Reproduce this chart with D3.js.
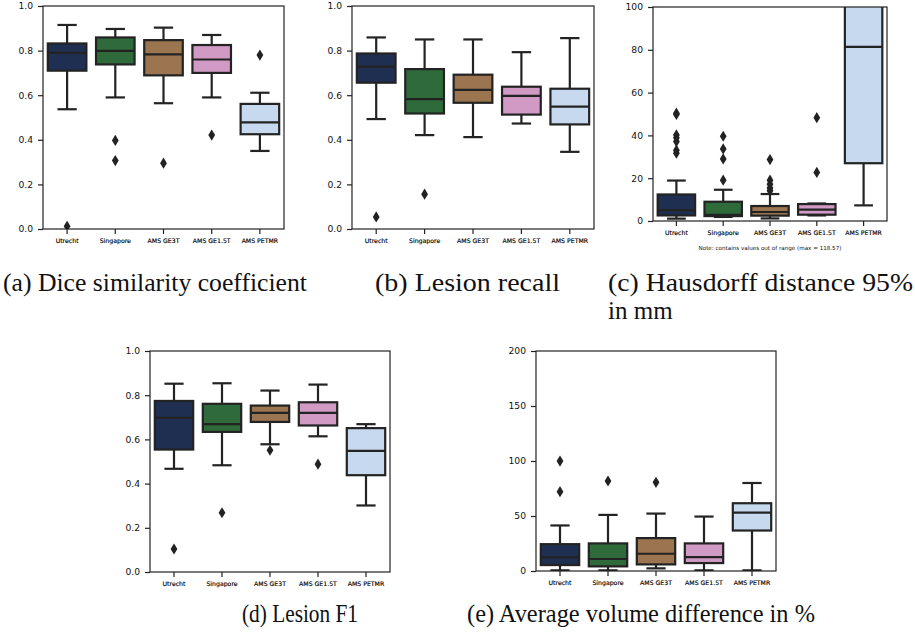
<!DOCTYPE html>
<html>
<head>
<meta charset="utf-8">
<script src="https://cdn.jsdelivr.net/npm/d3@7"></script>
<style>
    body { margin: 0; background: #ffffff; }
    svg { display: block; }
    .caption { font-family: "Liberation Serif", "Times New Roman", "Nimbus Roman", "DejaVu Serif", Georgia, serif; }
</style>
</head>
<body>
<svg id="vis-svg-boxes" width="915" height="640"></svg>
<script>
// Constants
const svgBoxes = d3.select("#vis-svg-boxes")

// Categories and colours (one per site)
const sites = ["Utrecht", "Singapore", "AMS GE3T", "AMS GE1.5T", "AMS PETMR"]
const siteColors = ["#1f2f52", "#2e6a3a", "#9a7550", "#d09ac4", "#c6d9ef"]

// Tick values
const unitTicks = [0, 0.2, 0.4, 0.6, 0.8, 1.0]
const hausdorffTicks = [0, 20, 40, 60, 80, 100]
const volumeTicks = [0, 50, 100, 150, 200]

// Box stats per site: [lower whisker, q1, median, q3, upper whisker]
const diceStats = [
    [0.537, 0.710, 0.790, 0.832, 0.915],
    [0.590, 0.738, 0.799, 0.859, 0.897],
    [0.564, 0.689, 0.783, 0.847, 0.903],
    [0.590, 0.700, 0.760, 0.825, 0.870],
    [0.350, 0.425, 0.478, 0.561, 0.611]
]
const diceOutliers = [[0.012], [0.397, 0.307], [0.295], [0.421], [0.780]]

const recallStats = [
    [0.493, 0.656, 0.728, 0.787, 0.859],
    [0.421, 0.518, 0.582, 0.717, 0.850],
    [0.412, 0.566, 0.624, 0.692, 0.850],
    [0.473, 0.513, 0.597, 0.638, 0.793],
    [0.346, 0.469, 0.549, 0.629, 0.856]
]
const recallOutliers = [[0.054], [0.156], [], [], []]

const hausdorffStats = [
    [1.1, 2.6, 5.1, 12.4, 18.9],
    [1.9, 2.3, 2.9, 9.0, 14.6],
    [1.2, 2.5, 4.2, 7.0, 12.6],
    [2.6, 2.95, 5.3, 7.9, 8.2],
    [7.3, 27.0, 81.4, 110.0, 118.57]
]
const hausdorffOutliers = [
    [49.8, 50.4, 40.2, 38.9, 37.1, 33.1, 31.7],
    [39.6, 33.7, 29.0, 19.1],
    [28.7, 19.1, 17.2, 15.4, 14.1],
    [48.3, 22.7],
    []
]

const f1Stats = [
    [0.467, 0.554, 0.697, 0.774, 0.852],
    [0.483, 0.634, 0.669, 0.761, 0.854],
    [0.578, 0.679, 0.720, 0.753, 0.821],
    [0.614, 0.663, 0.720, 0.768, 0.848],
    [0.301, 0.438, 0.548, 0.651, 0.669]
]
const f1Outliers = [[0.104], [0.268], [0.551], [0.488], []]

const volumeStats = [
    [0.6, 5.4, 12.4, 24.4, 41.4],
    [0.6, 4.2, 10.9, 25.1, 51.0],
    [2.4, 6.0, 15.7, 29.9, 52.2],
    [0.6, 7.2, 12.7, 25.1, 49.5],
    [0.6, 36.8, 53.1, 61.6, 80.0]
]
const volumeOutliers = [[99.9, 72.1], [81.8], [80.6], [], []]

class BoxPanel {
    edgeColor = '#232323'
    boxLine = 2.2

    constructor(key, frame, yDomain, yTicks, tickFormat, stats, outliers) {
        this.key = key
        this.frame = frame
        this.stats = stats
        this.outliers = outliers
        this.yTicks = yTicks
        this.tickFormat = tickFormat

        this.xScale = d3.scaleBand()
            .domain(sites)
            .range([frame.left, frame.right])
            .paddingInner(0)
            .paddingOuter(0)

        this.yScale = d3.scaleLinear()
            .domain(yDomain)
            .range([frame.bottom, frame.top])

        this.GroupSvg = svgBoxes.append('g').attr('class', `panel-${key}`)
    }

    Draw() {
        const f = this.frame
        const clipId = `clip-${this.key}`
        this.GroupSvg.append('clipPath')
            .attr('id', clipId)
            .append('rect')
            .attr('x', f.left)
            .attr('y', f.top)
            .attr('width', f.right - f.left)
            .attr('height', f.bottom - f.top)

        const plot = this.GroupSvg.append('g').attr('clip-path', `url(#${clipId})`)
        const boxW = this.xScale.bandwidth() * 0.8
        const capW = boxW * 0.5

        sites.forEach((site, i) => {
            const [lo, q1, med, q3, hi] = this.stats[i]
            const cx = this.xScale(site) + this.xScale.bandwidth() / 2
            const g = plot.append('g')

            // whiskers
            g.append('line')
                .attr('x1', cx).attr('x2', cx)
                .attr('y1', this.yScale(q3)).attr('y2', this.yScale(hi))
            g.append('line')
                .attr('x1', cx).attr('x2', cx)
                .attr('y1', this.yScale(q1)).attr('y2', this.yScale(lo))
            g.append('line')
                .attr('x1', cx - capW / 2).attr('x2', cx + capW / 2)
                .attr('y1', this.yScale(hi)).attr('y2', this.yScale(hi))
            g.append('line')
                .attr('x1', cx - capW / 2).attr('x2', cx + capW / 2)
                .attr('y1', this.yScale(lo)).attr('y2', this.yScale(lo))
            g.selectAll('line')
                .attr('stroke', this.edgeColor)
                .attr('stroke-width', this.boxLine)

            // box
            g.append('rect')
                .attr('x', cx - boxW / 2)
                .attr('y', this.yScale(q3))
                .attr('width', boxW)
                .attr('height', this.yScale(q1) - this.yScale(q3))
                .attr('fill', siteColors[i])
                .attr('stroke', this.edgeColor)
                .attr('stroke-width', this.boxLine)

            // median
            g.append('line')
                .attr('x1', cx - boxW / 2).attr('x2', cx + boxW / 2)
                .attr('y1', this.yScale(med)).attr('y2', this.yScale(med))
                .attr('stroke', this.edgeColor)
                .attr('stroke-width', this.boxLine)

            // outliers (thin diamonds)
            g.selectAll('path.flier')
                .data(this.outliers[i])
                .join('path')
                .attr('class', 'flier')
                .attr('d', 'M0,-5.6L3.4,0L0,5.6L-3.4,0Z')
                .attr('transform', d => `translate(${cx},${this.yScale(d)})`)
                .attr('fill', '#222222')
        })

        // frame
        this.GroupSvg.append('rect')
            .attr('x', f.left)
            .attr('y', f.top)
            .attr('width', f.right - f.left)
            .attr('height', f.bottom - f.top)
            .attr('fill', 'none')
            .attr('stroke', '#222222')
            .attr('stroke-width', 1.2)

        // axes
        const yAxis = this.GroupSvg.append('g')
            .attr('transform', `translate(${f.left},0)`)
            .call(d3.axisLeft(this.yScale)
                .tickValues(this.yTicks)
                .tickFormat(this.tickFormat)
                .tickSize(5)
                .tickPadding(5))
        yAxis.select('.domain').remove()
        yAxis.selectAll('text')
            .attr('font-family', 'DejaVu Sans')
            .attr('font-size', 9.2)
            .attr('fill', '#111')
        yAxis.selectAll('line').attr('stroke', '#222').attr('stroke-width', 1.2)

        const xAxis = this.GroupSvg.append('g')
            .attr('transform', `translate(0,${f.bottom})`)
            .call(d3.axisBottom(this.xScale)
                .tickSize(5)
                .tickPadding(5))
        xAxis.select('.domain').remove()
        xAxis.selectAll('text')
            .attr('font-family', 'DejaVu Sans')
            .attr('font-size', 6.2)
            .attr('fill', '#000')
            .attr('stroke', '#000')
            .attr('stroke-width', 0.15)
        xAxis.selectAll('line').attr('stroke', '#222').attr('stroke-width', 1.2)
    }
}

const unitFormat = d3.format('.1f')
const intFormat = d3.format('d')

const panels = [
    new BoxPanel('a', {left: 43, right: 284, top: 6, bottom: 229}, [0, 1], unitTicks, unitFormat, diceStats, diceOutliers),
    new BoxPanel('b', {left: 352, right: 594, top: 6, bottom: 229}, [0, 1], unitTicks, unitFormat, recallStats, recallOutliers),
    new BoxPanel('c', {left: 653, right: 887, top: 7, bottom: 221}, [0, 100], hausdorffTicks, intFormat, hausdorffStats, hausdorffOutliers),
    new BoxPanel('d', {left: 150, right: 390, top: 351, bottom: 572}, [0, 1], unitTicks, unitFormat, f1Stats, f1Outliers),
    new BoxPanel('e', {left: 536, right: 776, top: 351, bottom: 571}, [0, 200], volumeTicks, intFormat, volumeStats, volumeOutliers)
]
panels.forEach(p => p.Draw())

// Out of range note under (c)
svgBoxes.append('text')
    .attr('x', 770)
    .attr('y', 250)
    .attr('text-anchor', 'middle')
    .attr('font-family', 'DejaVu Sans')
    .attr('font-size', 5.6)
    .attr('fill', '#111')
    .text(`Note: contains values out of range (max = ${d3.max(hausdorffStats, d => d[4])})`)

// Sub captions (widths)
const captions = [
    {text: '(a) Dice similarity coefficient', x: 3, y: 291, w: 304},
    {text: '(b) Lesion recall', x: 375, y: 291, w: 185},
    {text: '(c) Hausdorff distance 95%', x: 608, y: 291, w: 305},
    {text: 'in mm', x: 608, y: 319, w: 0},
    {text: '(d) Lesion F1', x: 242, y: 622, w: 116},
    {text: '(e) Average volume difference in %', x: 467, y: 622, w: 348}
]
captions.forEach(c => {
    const t = svgBoxes.append('text')
        .attr('class', 'caption')
        .attr('x', c.x)
        .attr('y', c.y)
        .attr('font-size', 25)
        .attr('fill', '#111')
        .text(c.text)
    if(c.w > 0) {
        t.attr('textLength', c.w).attr('lengthAdjust', 'spacingAndGlyphs')
    }
})
</script>
</body>
</html>
